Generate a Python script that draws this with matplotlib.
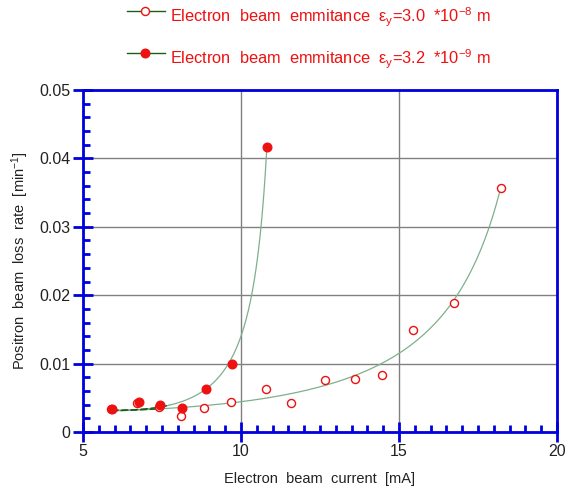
import numpy as np
import matplotlib.pyplot as plt
from matplotlib.lines import Line2D
from matplotlib.ticker import MultipleLocator, FuncFormatter

plt.rcParams['font.family'] = ['Liberation Sans', 'DejaVu Sans']
plt.rcParams['mathtext.fontset'] = 'custom'
plt.rcParams['mathtext.rm'] = 'Liberation Sans'
plt.rcParams['mathtext.default'] = 'regular'

# emittance 3.0e-8 m (open circles)
cur_open = [5.88, 6.70, 7.41, 8.10, 8.84, 9.68, 10.79, 11.58, 12.67, 13.61, 14.45, 15.44, 16.73, 18.22]
loss_open = [0.0034, 0.0042, 0.0037, 0.0023, 0.0035, 0.0044, 0.0063, 0.0042, 0.0076, 0.0077, 0.0083, 0.0149, 0.0189, 0.0357]

# emittance 3.2e-9 m (filled circles)
cur_fill = [5.91, 6.77, 7.43, 8.13, 8.89, 9.70, 10.82]
loss_fill = [0.0034, 0.0044, 0.0040, 0.0035, 0.0063, 0.0100, 0.0417]

# fitted curves y = a + b/(c - x) + d*x
fit_open = (-0.001965, 0.1035, 20.58, -0.000339)
fit_fill = (0.003955, 0.0276, 11.39, -0.00098)

labels = [
    'Electron  beam  emmitance  ε$_{y}$=3.0  *10$^{-8}$ m',
    'Electron  beam  emmitance  ε$_{y}$=3.2  *10$^{-9}$ m',
]

blue = '#0000dd'
red = '#ee1111'
fitcol = '#7fb08c'
dkgreen = '#1a5e1a'


def fitcurve(p, x0, x1):
    a, b, c, d = p
    xx = np.linspace(x0, x1, 300)
    return xx, a + b / (c - xx) + d * xx


W, H = 569, 493
fig = plt.figure(figsize=(W / 100, H / 100), dpi=100)
ax = fig.add_axes([83 / W, 1 - 432 / H, (557 - 83) / W, (432 - 90) / H])

for p, xs in [(fit_open, cur_open), (fit_fill, cur_fill)]:
    ax.plot(*fitcurve(p, xs[0], xs[-1]), color=fitcol, lw=0.9, zorder=2)

# short dark dashed traces at the low-current end
ax.plot(*fitcurve(fit_fill, cur_fill[0], 7.75), color=dkgreen, lw=1, ls=(0, (5, 2)), zorder=2)
ax.plot(*fitcurve(fit_open, cur_open[0], cur_open[2]), color=dkgreen, lw=1, ls=(0, (5, 2)), zorder=2)

ax.plot(cur_open, loss_open, 'o', ms=5.8, mfc='white', mec=red, mew=1.0, zorder=3)
ax.plot(cur_fill, loss_fill, 'o', ms=6.2, mfc=red, mec=red, zorder=4)

ax.set_xlim(5, 20)
ax.set_ylim(0, 0.05)
ax.xaxis.set_major_locator(MultipleLocator(5))
ax.xaxis.set_minor_locator(MultipleLocator(0.5))
ax.yaxis.set_major_locator(MultipleLocator(0.01))
ax.yaxis.set_minor_locator(MultipleLocator(0.002))
ax.xaxis.set_major_formatter(FuncFormatter(lambda v, p: '%d' % round(v)))
ax.yaxis.set_major_formatter(FuncFormatter(lambda v, p: '0' if abs(v) < 1e-9 else '%.2f' % v))
ax.grid(True, which='major', color='#808080', lw=1)
ax.set_axisbelow(True)

for s in ax.spines.values():
    s.set_color(blue)
    s.set_linewidth(2)
ax.tick_params(which='major', direction='inout', length=14, width=2, color=blue,
               labelsize=11.5, labelcolor='#222222', pad=2)
ax.tick_params(which='minor', direction='in', length=5, width=2, color=blue)

ax.set_xlabel('Electron  beam  current  [mA]', fontsize=10.5, color='#222222', labelpad=9)
ax.set_ylabel('Positron  beam  loss  rate  [min$^{-1}$]', fontsize=10.5, color='#222222', labelpad=6)

# legend drawn by hand above the axes
for i, (lab, filled) in enumerate(zip(labels, [False, True])):
    ty = 17 + 42 * i
    ly = ty - 6
    fig.add_artist(Line2D([127 / W, 165 / W], [1 - ly / H, 1 - ly / H], color=dkgreen, lw=1))
    fig.add_artist(Line2D([145 / W], [1 - ly / H], marker='o', ms=5.8 if not filled else 6.2,
                          mfc=red if filled else 'white', mec=red, mew=1.0, lw=0))
    fig.text(170 / W, 1 - ty / H, lab, fontsize=11.8, color=red, va='center', ha='left')

fig.savefig('out.png', dpi=100)
